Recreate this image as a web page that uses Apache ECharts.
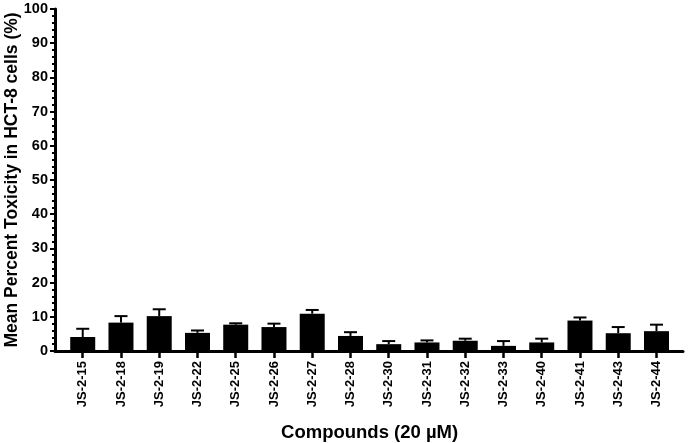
<!DOCTYPE html>
<html>
<head>
<meta charset="utf-8">
<script src="https://cdn.jsdelivr.net/npm/echarts@6/dist/echarts.min.js"></script>
<style>html,body{margin:0;padding:0;background:#fff}#c{width:688px;height:443px}</style>
</head>
<body>
<div id="c"></div>
<script>
const categories = ['JS-2-15','JS-2-18','JS-2-19','JS-2-22','JS-2-25','JS-2-26','JS-2-27','JS-2-28','JS-2-30','JS-2-31','JS-2-32','JS-2-33','JS-2-40','JS-2-41','JS-2-43','JS-2-44'];
const meanValues = [4.1, 8.3, 10.2, 5.3, 7.7, 7.0, 10.9, 4.4, 2.0, 2.5, 3.0, 1.5, 2.5, 8.9, 5.2, 5.8];
const errValues  = [2.4, 1.9, 2.0, 0.7, 0.4, 1.0, 1.1, 1.1, 0.9, 0.6, 0.6, 1.4, 1.1, 0.9, 1.8, 1.9];

const FONT = 'Liberation Sans';
const chart = echarts.init(document.getElementById('c'));
const errData = categories.map((c, i) => [i, meanValues[i], errValues[i]]);

chart.setOption({
  animation: false,
  grid: [
    {left: 55, right: 5, top: 9, bottom: 92, outerBoundsMode: 'none', containLabel: false},
    {left: 63.6, right: 12.4, top: 9, bottom: 92, outerBoundsMode: 'none', containLabel: false}
  ],
  xAxis: [
    {type: 'value', gridIndex: 0, min: 0, max: 1, axisLine: {show: true, lineStyle: {color: '#000', width: 3}},
     axisTick: {show: false}, axisLabel: {show: false}, splitLine: {show: false}},
    {type: 'category', gridIndex: 1, data: categories,
     axisLine: {show: false},
     axisTick: {show: true, alignWithLabel: true, length: 7, lineStyle: {color: '#000', width: 2.5}},
     axisLabel: {rotate: 90, margin: 10, color: '#000', fontFamily: FONT, fontWeight: 'bold', fontSize: 13},
     name: 'Compounds (20 µM)', nameLocation: 'middle', nameGap: 72, nameMoveOverlap: false,
     nameTextStyle: {color: '#000', fontFamily: FONT, fontWeight: 'bold', fontSize: 18.5}}
  ],
  yAxis: [
    {type: 'value', gridIndex: 0, min: 0, max: 100, interval: 10,
     axisLine: {show: true, lineStyle: {color: '#000', width: 3}},
     axisTick: {show: true, inside: false, length: 5, lineStyle: {color: '#000', width: 2}},
     minorTick: {show: true, splitNumber: 5, length: 3, lineStyle: {color: '#000', width: 2}},
     axisLabel: {margin: 7, color: '#000', fontFamily: FONT, fontWeight: 'bold', fontSize: 14.5},
     splitLine: {show: false},
     name: 'Mean Percent Toxicity in HCT-8 cells (%)', nameLocation: 'middle', nameGap: 34, nameMoveOverlap: false,
     nameTextStyle: {color: '#000', fontFamily: FONT, fontWeight: 'bold', fontSize: 17.5}},
    {type: 'value', gridIndex: 1, min: 0, max: 100, show: false}
  ],
  series: [
    {type: 'bar', xAxisIndex: 1, yAxisIndex: 1, data: meanValues, barWidth: 25,
     itemStyle: {color: '#000'}},
    {type: 'custom', xAxisIndex: 1, yAxisIndex: 1, data: errData, z: 3,
     renderItem: function (params, api) {
       const x = api.value(0), m = api.value(1), e = api.value(2);
       const p0 = api.coord([x, m]);
       const p1 = api.coord([x, m + e]);
       const hw = 6.5;
       const style = {stroke: '#000', lineWidth: 2};
       return {type: 'group', children: [
         {type: 'line', shape: {x1: p0[0], y1: p0[1], x2: p1[0], y2: p1[1]}, style: style},
         {type: 'line', shape: {x1: p1[0] - hw, y1: p1[1], x2: p1[0] + hw, y2: p1[1]}, style: style}
       ]};
     }}
  ]
});
</script>
</body>
</html>
